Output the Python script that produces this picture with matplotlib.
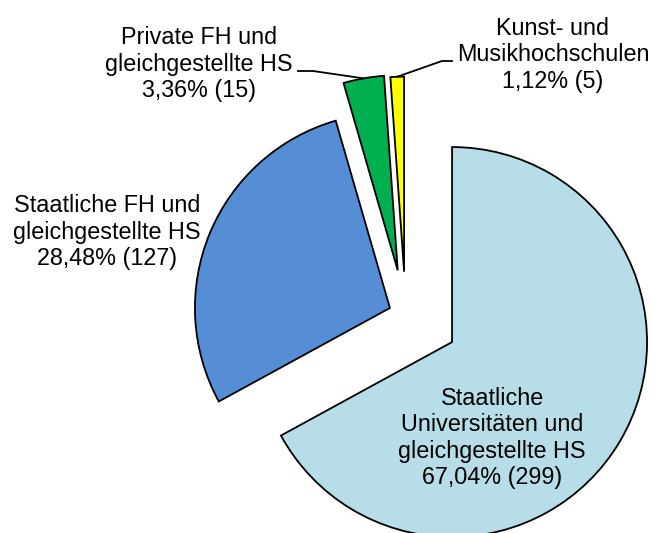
import numpy as np
import matplotlib.pyplot as plt

# data
categories = [
    "Staatliche\nUniversitäten und\ngleichgestellte HS",
    "Staatliche FH und\ngleichgestellte HS",
    "Private FH und\ngleichgestellte HS",
    "Kunst- und\nMusikhochschulen",
]
counts = [299, 127, 15, 5]
colors = ["#B7DDE8", "#558ED5", "#00B050", "#FFFF00"]
explode = [0.277, 0.087, 0.23, 0.22]

W, H = 654, 533
R = 195.0  # pie radius in pixels


def px(x, y):
    # screen pixel (y down) -> data units where the pie radius is 1
    return x / R, (H - y) / R


plt.rcParams["font.family"] = ["Liberation Sans", "DejaVu Sans"]

fig = plt.figure(figsize=(W / 100, H / 100), dpi=100)
ax = fig.add_axes([0, 0, 1, 1])

total = sum(counts)
wedges, _ = ax.pie(
    counts,
    colors=colors,
    explode=explode,
    startangle=90,
    counterclock=False,
    radius=1.0,
    center=px(405.6, 314.5),
    wedgeprops=dict(edgecolor="black", linewidth=1.3),
)

labels = []
for cat, n in zip(categories, counts):
    pct = f"{n / total * 100:.2f}".replace(".", ",")
    labels.append(f"{cat}\n{pct}% ({n})")

text_kw = dict(ha="center", va="center", fontsize=16.8, linespacing=1.17)
ax.text(*px(492, 438), labels[0], **text_kw)
ax.text(*px(107, 232), labels[1], **text_kw)
ax.text(*px(199, 64), labels[2], **text_kw)
ax.text(*px(553, 55), labels[3], **text_kw)


def outer_mid(w):
    # point on the outer arc, in the middle of the wedge
    a = np.deg2rad(0.5 * (w.theta1 + w.theta2))
    return w.center[0] + w.r * np.cos(a), w.center[1] + w.r * np.sin(a)


# leader lines for the two small slices
gx, gy = outer_mid(wedges[2])
x0, y0 = px(298, 71)
x1, y1 = px(313, 71)
ax.plot([x0, x1, gx], [y0, y1, gy], color="black", linewidth=1.3)

yx, yy = outer_mid(wedges[3])
x0, y0 = px(452, 61)
x1, y1 = px(442, 61)
ax.plot([x0, x1, yx], [y0, y1, yy], color="black", linewidth=1.3)

ax.set_xlim(0, W / R)
ax.set_ylim(0, H / R)
ax.set_aspect("equal")
ax.axis("off")

plt.savefig("out.png", dpi=100)
